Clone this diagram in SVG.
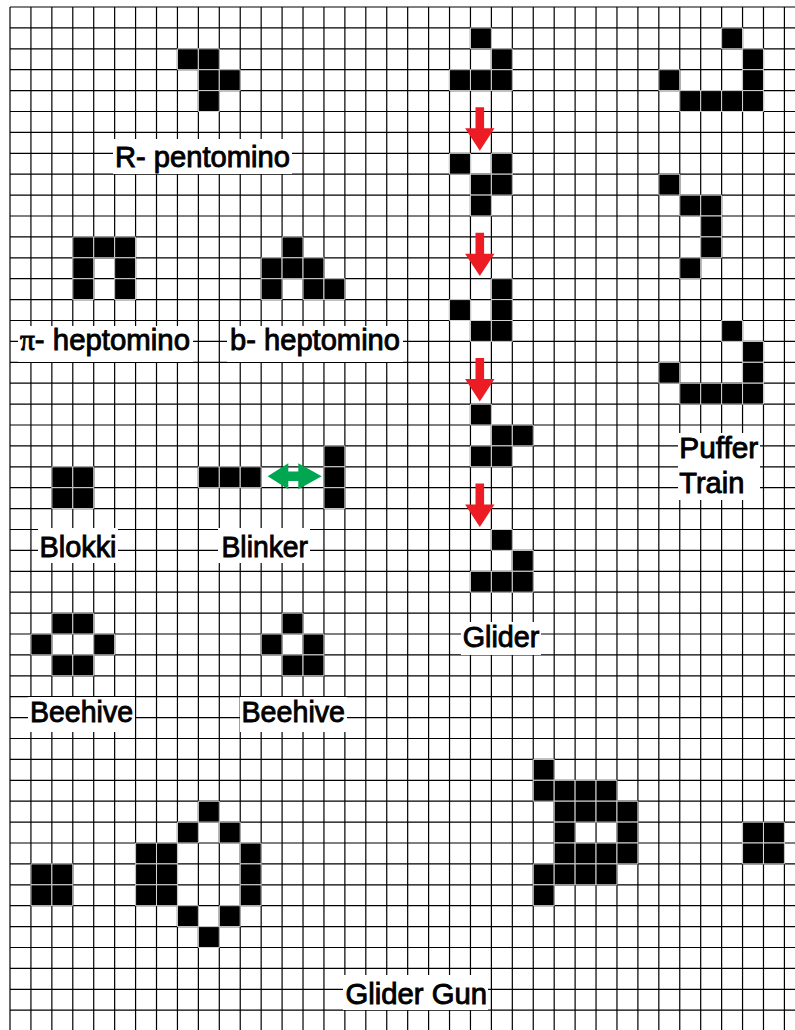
<svg xmlns="http://www.w3.org/2000/svg" xmlns:xlink="http://www.w3.org/1999/xlink" width="795" height="1030" viewBox="0 0 795 1030">
<style>
.grid{fill:none;stroke:#000;stroke-width:1.2;vector-effect:non-scaling-stroke}
.cell{fill:#000;stroke:#d4d4d4;stroke-width:1;vector-effect:non-scaling-stroke}
.lb{fill:#fff;stroke:none}
.t{font-family:"Liberation Sans",Arial,sans-serif;font-size:29px;fill:#000;stroke:#000;stroke-width:0.9}
.ra{fill:#ED1C24}
.ga{fill:#00A650}
</style>
<defs>
<rect id="c" class="cell" width="1" height="1"/>
<polygon id="ra" class="ra" points="-4.3,0 4.3,0 4.3,21 14.7,21 0,43.4 -14.7,21 -4.3,21"/>
</defs>
<rect width="795" height="1030" fill="#fff"/>
<g id="grid" transform="translate(10,7) scale(20.93,20.9)">
<path class="grid" d="M0 0V49M1 0V49M2 0V49M3 0V49M4 0V49M5 0V49M6 0V49M7 0V49M8 0V49M9 0V49M10 0V49M11 0V49M12 0V49M13 0V49M14 0V49M15 0V49M16 0V49M17 0V49M18 0V49M19 0V49M20 0V49M21 0V49M22 0V49M23 0V49M24 0V49M25 0V49M26 0V49M27 0V49M28 0V49M29 0V49M30 0V49M31 0V49M32 0V49M33 0V49M34 0V49M35 0V49M36 0V49M37 0V49"/>
<path class="grid" d="M0 0H38M0 1H38M0 2H38M0 3H38M0 4H38M0 5H38M0 6H38M0 7H38M0 8H38M0 9H38M0 10H38M0 11H38M0 12H38M0 13H38M0 14H38M0 15H38M0 16H38M0 17H38M0 18H38M0 19H38M0 20H38M0 21H38M0 22H38M0 23H38M0 24H38M0 25H38M0 26H38M0 27H38M0 28H38M0 29H38M0 30H38M0 31H38M0 32H38M0 33H38M0 34H38M0 35H38M0 36H38M0 37H38M0 38H38M0 39H38M0 40H38M0 41H38M0 42H38M0 43H38M0 44H38M0 45H38M0 46H38M0 47H38M0 48H38"/>
</g>

<g id="r-pentomino">
<g transform="translate(10,7) scale(20.93,20.9)">
<use href="#c" x="8" y="2"/><use href="#c" x="9" y="2"/><use href="#c" x="9" y="3"/><use href="#c" x="10" y="3"/><use href="#c" x="9" y="4"/>
</g>
<rect class="lb" x="113" y="139" width="179" height="35"/>
<text class="t" x="115" y="167" textLength="175" lengthAdjust="spacingAndGlyphs">R- pentomino</text>
</g>

<g id="pi-heptomino">
<g transform="translate(10,7) scale(20.93,20.9)">
<use href="#c" x="3" y="11"/><use href="#c" x="4" y="11"/><use href="#c" x="5" y="11"/><use href="#c" x="3" y="12"/><use href="#c" x="5" y="12"/><use href="#c" x="3" y="13"/><use href="#c" x="5" y="13"/>
</g>
<rect class="lb" x="18" y="326" width="175" height="36"/>
<text class="t" x="20" y="349.5" textLength="170" lengthAdjust="spacingAndGlyphs"><tspan style="font-family:'Liberation Serif',serif">π</tspan>- heptomino</text>
</g>

<g id="b-heptomino">
<g transform="translate(10,7) scale(20.93,20.9)">
<use href="#c" x="13" y="11"/><use href="#c" x="12" y="12"/><use href="#c" x="13" y="12"/><use href="#c" x="14" y="12"/><use href="#c" x="12" y="13"/><use href="#c" x="14" y="13"/><use href="#c" x="15" y="13"/>
</g>
<rect class="lb" x="227" y="326" width="176" height="36"/>
<text class="t" x="230" y="349.5" textLength="170" lengthAdjust="spacingAndGlyphs">b- heptomino</text>
</g>

<g id="blokki">
<g transform="translate(10,7) scale(20.93,20.9)">
<use href="#c" x="2" y="22"/><use href="#c" x="3" y="22"/><use href="#c" x="2" y="23"/><use href="#c" x="3" y="23"/>
</g>
<rect class="lb" x="38" y="528" width="80" height="35"/>
<text class="t" x="39.5" y="556.5" textLength="77" lengthAdjust="spacingAndGlyphs">Blokki</text>
</g>

<g id="blinker">
<g transform="translate(10,7) scale(20.93,20.9)">
<use href="#c" x="9" y="22"/><use href="#c" x="10" y="22"/><use href="#c" x="11" y="22"/><use href="#c" x="15" y="21"/><use href="#c" x="15" y="22"/><use href="#c" x="15" y="23"/>
</g>
<rect class="lb" x="218" y="528" width="92" height="35"/>
<text class="t" x="221.5" y="556.5" textLength="86.5" lengthAdjust="spacingAndGlyphs">Blinker</text>
</g>

<g id="beehive-left">
<g transform="translate(10,7) scale(20.93,20.9)">
<use href="#c" x="2" y="29"/><use href="#c" x="3" y="29"/><use href="#c" x="1" y="30"/><use href="#c" x="4" y="30"/><use href="#c" x="2" y="31"/><use href="#c" x="3" y="31"/>
</g>
<rect class="lb" x="28" y="697" width="107" height="35"/>
<text class="t" x="30" y="721.5" textLength="103" lengthAdjust="spacingAndGlyphs">Beehive</text>
</g>

<g id="beehive-right">
<g transform="translate(10,7) scale(20.93,20.9)">
<use href="#c" x="13" y="29"/><use href="#c" x="12" y="30"/><use href="#c" x="14" y="30"/><use href="#c" x="13" y="31"/><use href="#c" x="14" y="31"/>
</g>
<rect class="lb" x="240" y="697" width="107" height="35"/>
<text class="t" x="241.5" y="721.5" textLength="103.5" lengthAdjust="spacingAndGlyphs">Beehive</text>
</g>

<g id="glider">
<g transform="translate(10,7) scale(20.93,20.9)">
<use href="#c" x="22" y="1"/><use href="#c" x="23" y="2"/><use href="#c" x="21" y="3"/><use href="#c" x="22" y="3"/><use href="#c" x="23" y="3"/>
<use href="#c" x="21" y="7"/><use href="#c" x="23" y="7"/><use href="#c" x="22" y="8"/><use href="#c" x="23" y="8"/><use href="#c" x="22" y="9"/>
<use href="#c" x="23" y="13"/><use href="#c" x="21" y="14"/><use href="#c" x="23" y="14"/><use href="#c" x="22" y="15"/><use href="#c" x="23" y="15"/>
<use href="#c" x="22" y="19"/><use href="#c" x="23" y="20"/><use href="#c" x="24" y="20"/><use href="#c" x="22" y="21"/><use href="#c" x="23" y="21"/>
<use href="#c" x="23" y="25"/><use href="#c" x="24" y="26"/><use href="#c" x="22" y="27"/><use href="#c" x="23" y="27"/><use href="#c" x="24" y="27"/>
</g>
<rect class="lb" x="461" y="622" width="80" height="33"/>
<text class="t" x="462.7" y="646.5" textLength="76.7" lengthAdjust="spacingAndGlyphs">Glider</text>
</g>

<g id="puffer-train">
<g transform="translate(10,7) scale(20.93,20.9)">
<use href="#c" x="34" y="1"/><use href="#c" x="35" y="2"/><use href="#c" x="31" y="3"/><use href="#c" x="35" y="3"/><use href="#c" x="32" y="4"/><use href="#c" x="33" y="4"/><use href="#c" x="34" y="4"/><use href="#c" x="35" y="4"/>
<use href="#c" x="31" y="8"/><use href="#c" x="32" y="9"/><use href="#c" x="33" y="9"/><use href="#c" x="33" y="10"/><use href="#c" x="33" y="11"/><use href="#c" x="32" y="12"/>
<use href="#c" x="34" y="15"/><use href="#c" x="35" y="16"/><use href="#c" x="31" y="17"/><use href="#c" x="35" y="17"/><use href="#c" x="32" y="18"/><use href="#c" x="33" y="18"/><use href="#c" x="34" y="18"/><use href="#c" x="35" y="18"/>
</g>
<rect class="lb" x="678" y="433" width="82" height="67"/>
<text class="t" x="679.3" y="458"><tspan textLength="79" lengthAdjust="spacingAndGlyphs">Puffer</tspan></text>
<text class="t" x="679.3" y="493">Train</text>
</g>

<g id="glider-gun">
<g transform="translate(10,7) scale(20.93,20.9)">
<use href="#c" x="9" y="38"/><use href="#c" x="8" y="39"/><use href="#c" x="10" y="39"/><use href="#c" x="6" y="40"/><use href="#c" x="7" y="40"/><use href="#c" x="11" y="40"/>
<use href="#c" x="1" y="41"/><use href="#c" x="2" y="41"/><use href="#c" x="6" y="41"/><use href="#c" x="7" y="41"/><use href="#c" x="11" y="41"/>
<use href="#c" x="1" y="42"/><use href="#c" x="2" y="42"/><use href="#c" x="6" y="42"/><use href="#c" x="7" y="42"/><use href="#c" x="11" y="42"/>
<use href="#c" x="8" y="43"/><use href="#c" x="10" y="43"/><use href="#c" x="9" y="44"/>
<use href="#c" x="25" y="36"/><use href="#c" x="25" y="37"/><use href="#c" x="26" y="37"/><use href="#c" x="27" y="37"/><use href="#c" x="28" y="37"/>
<use href="#c" x="26" y="38"/><use href="#c" x="27" y="38"/><use href="#c" x="28" y="38"/><use href="#c" x="29" y="38"/>
<use href="#c" x="26" y="39"/><use href="#c" x="29" y="39"/>
<use href="#c" x="26" y="40"/><use href="#c" x="27" y="40"/><use href="#c" x="28" y="40"/><use href="#c" x="29" y="40"/>
<use href="#c" x="25" y="41"/><use href="#c" x="26" y="41"/><use href="#c" x="27" y="41"/><use href="#c" x="28" y="41"/><use href="#c" x="25" y="42"/>
<use href="#c" x="35" y="39"/><use href="#c" x="36" y="39"/><use href="#c" x="35" y="40"/><use href="#c" x="36" y="40"/>
</g>
<rect class="lb" x="343" y="975" width="145" height="35"/>
<text class="t" x="345.5" y="1003.5" textLength="141.5" lengthAdjust="spacingAndGlyphs">Glider Gun</text>
</g>

<g id="connectors">
<use href="#ra" x="479.8" y="107.3"/>
<use href="#ra" x="479.8" y="232.7"/>
<use href="#ra" x="479.8" y="358.1"/>
<use href="#ra" x="479.8" y="483.5"/>
<polygon class="ga" points="267.7,476.3 288.3,463.3 288.3,471.6 298.3,471.6 298.3,463.3 321.7,476.3 298.3,489.3 298.3,481 288.3,481 288.3,489.3"/>
</g>
</svg>
